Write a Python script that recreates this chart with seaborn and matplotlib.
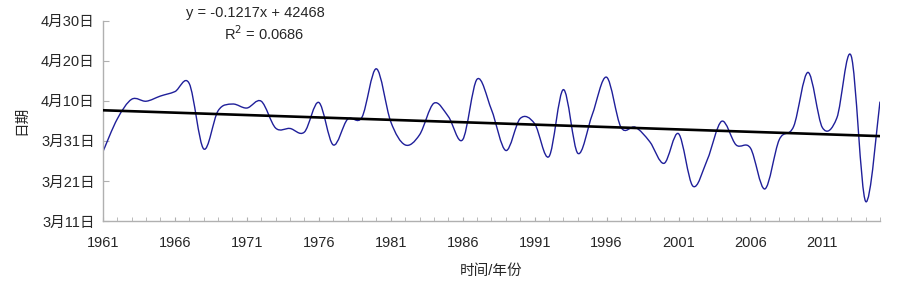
import numpy as np
import pandas as pd
import seaborn as sns
import matplotlib.pyplot as plt
from matplotlib.path import Path
from matplotlib.patches import PathPatch
from matplotlib.ticker import MultipleLocator, FixedLocator

# ---- Data: first date (day of year, Mar 31 = 90) for each year ----
years = list(range(1961, 2016))
day_of_year = [
    87.3, 95.5, 100.4, 99.9, 101.2, 102.3, 104.3, 88.0, 97.5, 99.2,   # 1961-1970
    98.2, 99.9, 93.2, 93.1, 92.2, 99.6, 89.0, 95.4, 95.9, 108.0,      # 1971-1980
    94.8, 89.0, 91.5, 99.4, 96.1, 90.3, 105.4, 97.8, 87.6, 95.6,      # 1981-1990
    94.3, 86.1, 102.8, 86.9, 96.5, 105.9, 93.4, 93.4, 89.8, 84.4,     # 1991-2000
    91.8, 78.7, 85.3, 94.9, 89.0, 88.2, 78.0, 90.3, 93.6, 107.1,      # 2001-2010
    93.3, 95.7, 111.2, 74.9, 99.8,                                    # 2011-2015
]
ytick_vals = [70, 80, 90, 100, 110, 120]
ytick_labels = ["3月11日", "3月21日", "3月31日", "4月10日", "4月20日", "4月30日"]
xtick_vals = list(range(1961, 2015, 5))

df = pd.DataFrame({"year": years, "doy": day_of_year})

sns.set_style("white")
plt.rcParams["font.family"] = ["Liberation Sans", "Noto Sans CJK SC", "DejaVu Sans"]

fig = plt.figure(figsize=(9.03, 2.85), dpi=100)
ax = fig.add_axes([0.114, 0.2246, 0.8605, 0.7027])

# Excel-style smoothed line (cubic Bezier through every point)
x = df["year"].to_numpy(dtype=float)
y = df["doy"].to_numpy(dtype=float)
verts = [(x[0], y[0])]
codes = [Path.MOVETO]
for i in range(len(x) - 1):
    x0, y0 = (x[i - 1], y[i - 1]) if i > 0 else (x[i], y[i])
    x3, y3 = (x[i + 2], y[i + 2]) if i + 2 < len(x) else (x[i + 1], y[i + 1])
    c1 = (x[i] + (x[i + 1] - x0) / 6, y[i] + (y[i + 1] - y0) / 6)
    c2 = (x[i + 1] - (x3 - x[i]) / 6, y[i + 1] - (y3 - y[i]) / 6)
    verts += [c1, c2, (x[i + 1], y[i + 1])]
    codes += [Path.CURVE4] * 3
ax.add_patch(PathPatch(Path(verts, codes), facecolor="none",
                       edgecolor="#1f1f9a", linewidth=1.0, zorder=2))

# linear trend
sns.regplot(data=df, x="year", y="doy", scatter=False, ci=None, ax=ax,
            color="black", line_kws={"linewidth": 1.9, "zorder": 3})

ax.set_xlim(1961, 2015)
ax.set_ylim(70, 120)
ax.xaxis.set_major_locator(FixedLocator(xtick_vals))
ax.xaxis.set_minor_locator(MultipleLocator(1))
ax.set_xticks(xtick_vals)
ax.set_xticklabels([str(v) for v in xtick_vals], fontsize=10.5)
ax.set_yticks(ytick_vals)
ax.set_yticklabels(ytick_labels, fontsize=10.5)

for side in ["top", "right"]:
    ax.spines[side].set_visible(False)
for side in ["left", "bottom"]:
    ax.spines[side].set_color("#b0b0b0")
    ax.spines[side].set_linewidth(1.0)
ax.tick_params(axis="x", which="both", direction="in", length=3, color="#b0b0b0",
               pad=11, bottom=True)
ax.tick_params(axis="y", direction="in", length=4, color="#b0b0b0", pad=6, left=True)

ax.set_xlabel("时间/年份", fontsize=10.5, labelpad=10)
ax.set_ylabel("日期", fontsize=10.5, labelpad=9)

fig.text(0.283, 0.955, "y = -0.1217x + 42468", fontsize=10.5, ha="center", va="center")
fig.text(0.293, 0.883, "R$^2$ = 0.0686", fontsize=10.5, ha="center", va="center")

fig.savefig("out.png", dpi=100)
